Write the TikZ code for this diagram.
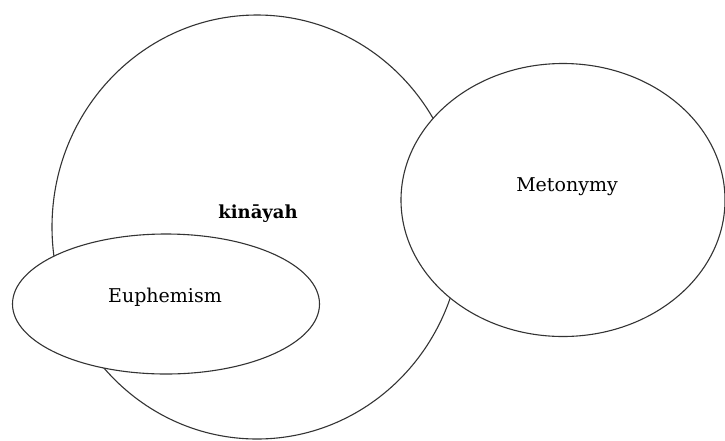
\documentclass[tikz,border=0pt]{standalone}
\usepackage{fontspec}
\setmainfont{DejaVu Serif}
\usetikzlibrary{shapes,positioning}

\begin{document}
\begin{tikzpicture}[
		x=1pt,y=-1pt,
		area/.style={
		  draw,
		  ellipse,
		  fill=white,
		  line width=1.1pt,
		  draw=black!80,
		  inner sep=0pt
		},
		term/.style={
		  font=\fontsize{19}{22}\selectfont
		}
		]
		\useasboundingbox (0,0) rectangle (725,440);
		\node[area,minimum width=410,minimum height=424] at (257,227)
		  (kinayah) {};
		\node[area,minimum width=324,minimum height=273] at (563,200)
		  (meto) {};
		\node[area,minimum width=307,minimum height=140] at (166,304)
		  (euph) {};

		\node[term,font=\fontsize{18}{22}\selectfont\bfseries] at (258,214)
		  (kin) {kināyah};
		\node[term] at (567,187)
		  (met) {Metonymy};
		\node[term] at (165,297)
		  (eup) {Euphemism};
	\end{tikzpicture}
\end{document}
